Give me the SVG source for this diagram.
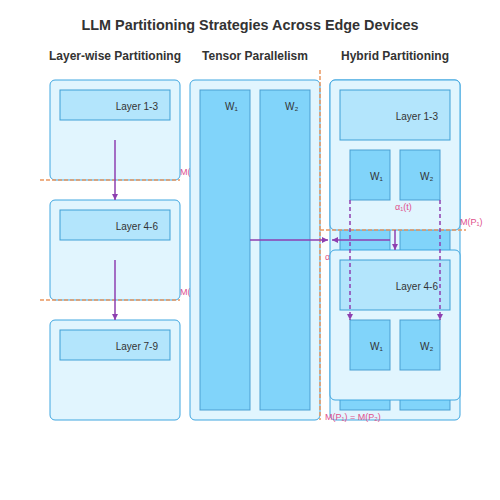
<svg xmlns="http://www.w3.org/2000/svg" width="500" height="500" viewBox="0 0 500 500">
<defs>
<style>
text{font-family:"Liberation Sans",Arial,"DejaVu Sans",sans-serif;}
.title{font-size:14.4px;font-weight:bold;fill:#333;text-anchor:middle;}
.head{font-size:12px;font-weight:bold;fill:#333;text-anchor:middle;}
.dev{fill:#e1f5fe;stroke:#3fa6e0;stroke-width:1;}
.layer{fill:#b3e5fc;stroke:#3f9fd6;stroke-width:1;}
.w{fill:#81d4fa;stroke:#4a9fd2;stroke-width:1;}
.lt{font-size:10px;fill:#333;text-anchor:end;}
.wt{font-size:10px;fill:#333;}
.mem{font-size:9px;fill:#e0508c;}
.odash{stroke:#e9975f;stroke-width:1.5;stroke-dasharray:4,2;fill:none;}
.flow{stroke:#8e3fb0;stroke-width:1.5;fill:none;}
.pdash{stroke:#8e3fb0;stroke-width:1.5;stroke-dasharray:4,3;fill:none;}
</style>
<marker id="ah" viewBox="0 0 10 10" refX="10" refY="5" markerWidth="4" markerHeight="4" orient="auto" markerUnits="strokeWidth">
<path d="M0,0 L10,5 L0,10 z" fill="#8e3fb0"/>
</marker>
</defs>
<rect width="500" height="500" fill="#ffffff"/>
<text class="title" x="250" y="30">LLM Partitioning Strategies Across Edge Devices</text>
<text class="head" x="115" y="60">Layer-wise Partitioning</text>
<text class="head" x="255" y="60">Tensor Parallelism</text>
<text class="head" x="395" y="60">Hybrid Partitioning</text>

<g id="annotations-hidden">
<text class="mem" x="180" y="175">M(P₁)</text>
<text class="mem" x="180" y="295">M(P₂)</text>
<text class="mem" x="325" y="260">α(t)</text>
</g>

<g id="layer-device-1">
<rect class="dev" x="50" y="80" width="130" height="100" rx="5"/>
<rect class="layer" x="60" y="90" width="110" height="30"/>
<text class="lt" x="158" y="110">Layer 1-3</text>
</g>
<g id="layer-device-2">
<rect class="dev" x="50" y="200" width="130" height="100" rx="5"/>
<rect class="layer" x="60" y="210" width="110" height="30"/>
<text class="lt" x="158" y="230">Layer 4-6</text>
</g>
<g id="layer-device-3">
<rect class="dev" x="50" y="320" width="130" height="100" rx="5"/>
<rect class="layer" x="60" y="330" width="110" height="30"/>
<text class="lt" x="158" y="350">Layer 7-9</text>
</g>

<g id="tensor-device">
<rect class="dev" x="190" y="80" width="130" height="340" rx="5"/>
<rect class="w" x="200" y="90" width="50" height="320"/>
<rect class="w" x="260" y="90" width="50" height="320"/>
<text class="wt" x="225" y="110">W₁</text>
<text class="wt" x="285" y="110">W₂</text>
</g>

<g id="hybrid-background">
<rect class="dev" x="330" y="80" width="130" height="340" rx="5"/>
<rect class="w" x="340" y="90" width="50" height="320"/>
<rect class="w" x="400" y="90" width="50" height="320"/>
</g>
<g id="hybrid-device-1">
<rect class="dev" x="330" y="80" width="130" height="150" rx="5"/>
<rect class="layer" x="340" y="90" width="110" height="50"/>
<text class="lt" x="438" y="120">Layer 1-3</text>
<rect class="w" x="350" y="150" width="40" height="50"/>
<rect class="w" x="400" y="150" width="40" height="50"/>
<text class="wt" x="370" y="180">W₁</text>
<text class="wt" x="420" y="180">W₂</text>
</g>
<g id="hybrid-device-2">
<rect class="dev" x="330" y="250" width="130" height="150" rx="5"/>
<rect class="layer" x="340" y="260" width="110" height="50"/>
<text class="lt" x="438" y="290">Layer 4-6</text>
<rect class="w" x="350" y="320" width="40" height="50"/>
<rect class="w" x="400" y="320" width="40" height="50"/>
<text class="wt" x="370" y="350">W₁</text>
<text class="wt" x="420" y="350">W₂</text>
</g>

<g id="connectors">
<line class="odash" x1="40" y1="180" x2="180" y2="180"/>
<line class="odash" x1="40" y1="300" x2="180" y2="300"/>
<line class="odash" x1="320" y1="70" x2="320" y2="420"/>
<line class="odash" x1="320" y1="230" x2="466" y2="230"/>
<line class="flow" x1="115" y1="140" x2="115" y2="200" marker-end="url(#ah)"/>
<line class="flow" x1="115" y1="260" x2="115" y2="320" marker-end="url(#ah)"/>
<line class="flow" x1="250" y1="240" x2="328" y2="240" marker-end="url(#ah)"/>
<line class="flow" x1="390" y1="240" x2="332" y2="240" marker-end="url(#ah)"/>
<line class="flow" x1="395" y1="230" x2="395" y2="250" marker-end="url(#ah)"/>
<line class="pdash" x1="350" y1="200" x2="350" y2="320" marker-end="url(#ah)"/>
<line class="pdash" x1="440" y1="200" x2="440" y2="320" marker-end="url(#ah)"/>
</g>

<g id="labels">
<text class="mem" x="395" y="210">α₁(t)</text>
<text class="mem" x="460" y="225">M(P₁)</text>
<text class="mem" x="325" y="420">M(P₁) = M(P₂)</text>
</g>
</svg>
